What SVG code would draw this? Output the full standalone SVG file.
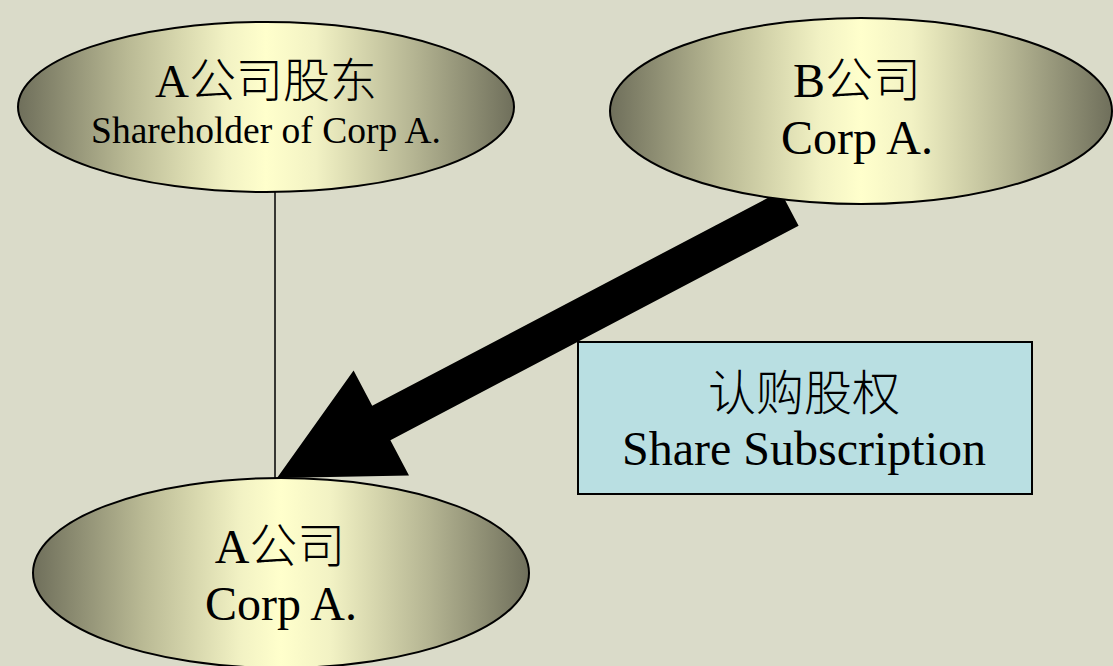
<svg xmlns="http://www.w3.org/2000/svg" width="1113" height="666" viewBox="0 0 1113 666">
  <defs>
    <linearGradient id="olive" x1="0" y1="0" x2="1" y2="0">
      <stop offset="0" stop-color="#6f6f5b"/>
      <stop offset="0.22" stop-color="#b9b994"/>
      <stop offset="0.42" stop-color="#f2f2c4"/>
      <stop offset="0.5" stop-color="#ffffcc"/>
      <stop offset="0.6" stop-color="#f2f2c4"/>
      <stop offset="0.8" stop-color="#b4b492"/>
      <stop offset="1" stop-color="#6f6f5b"/>
    </linearGradient>
  </defs>
  <style>
    .node { fill: url(#olive); stroke: #000; stroke-width: 2; }
    .label { font-family: "Liberation Serif", "Noto Sans CJK SC", serif; fill: #000; text-anchor: middle; }
    .cjk { font-weight: 300; }
    .big { font-size: 48px; }
    .small { font-size: 37.5px; }
    .box { fill: #b9dfe2; stroke: #000; stroke-width: 2; }
    .link { stroke: #000; stroke-width: 1.5; fill: none; }
    .bigarrow { fill: #000; stroke: none; }
  </style>

  <rect x="0" y="0" width="1113" height="666" fill="#dadbc9"/>

  <!-- connectors -->
  <g id="connectors">
    <line class="link" x1="275" y1="192" x2="275" y2="478"/>
    <polygon class="bigarrow" points="780.4,191.3 798.6,225.7 390.4,440.2 409,475.6 277,478 353.6,370.4 372.2,405.8"/>
  </g>

  <g id="shareholder">
    <ellipse class="node" cx="266" cy="107" rx="248" ry="85"/>
    <text class="label" x="266" y="97" font-size="47">A<tspan class="cjk">公司股东</tspan></text>
    <text class="label small" x="266" y="143">Shareholder of Corp A.</text>
  </g>

  <g id="corpB">
    <ellipse class="node" cx="861" cy="111" rx="251" ry="93"/>
    <text class="label big" x="857" y="97">B<tspan class="cjk">公司</tspan></text>
    <text class="label big" x="857" y="154">Corp A.</text>
  </g>

  <g id="corpA">
    <ellipse class="node" cx="281" cy="573" rx="248" ry="95"/>
    <text class="label big" x="280" y="563">A<tspan class="cjk">公司</tspan></text>
    <text class="label big" x="281" y="620">Corp A.</text>
  </g>

  <g id="subscription">
    <rect class="box" x="578" y="342" width="454" height="152"/>
    <text class="label big cjk" x="804" y="410">认购股权</text>
    <text class="label big" x="804" y="465">Share Subscription</text>
  </g>
</svg>
